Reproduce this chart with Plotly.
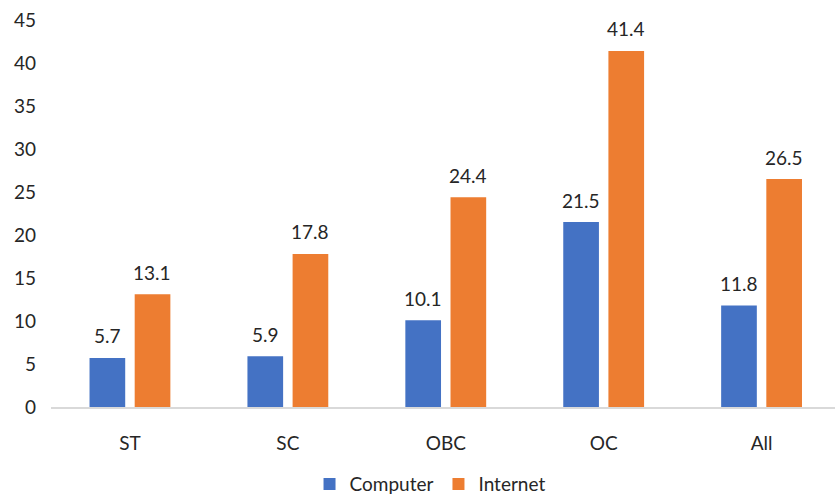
import plotly.graph_objects as go

categories = ["ST", "SC", "OBC", "OC", "All"]
computer = [5.7, 5.9, 10.1, 21.5, 11.8]
internet = [13.1, 17.8, 24.4, 41.4, 26.5]
y_ticks = [0, 5, 10, 15, 20, 25, 30, 35, 40, 45]

BLUE = "#4472C4"
ORANGE = "#ED7D31"
FONT = "Lato"
TXT = "#262626"

fig = go.Figure()
fig.add_trace(go.Bar(name="Computer", x=categories, y=computer,
                     marker=dict(color=BLUE, line=dict(width=0))))
fig.add_trace(go.Bar(name="Internet", x=categories, y=internet,
                     marker=dict(color=ORANGE, line=dict(width=0))))

# value labels above each bar, shifted left/right to the bar in the group
slot_px = 45
for series, shift in ((computer, -slot_px / 2), (internet, slot_px / 2)):
    for cat, val in zip(categories, series):
        fig.add_annotation(x=cat, y=val, text=f"{val:.1f}", showarrow=False,
                           xshift=shift, yshift=22, yanchor="middle",
                           font=dict(family=FONT, size=19, color=TXT))

fig.update_layout(
    width=835, height=494,
    margin=dict(l=51, r=0, t=20, b=87),
    plot_bgcolor="white", paper_bgcolor="white",
    barmode="group", bargap=0.428, bargroupgap=0.21,
    font=dict(family=FONT, size=19, color=TXT),
    showlegend=True,
    legend=dict(orientation="h", xref="container", yref="container",
                x=0.515, xanchor="center", y=0.02, yanchor="middle",
                font=dict(family=FONT, size=19, color=TXT),
                itemwidth=30, tracegroupgap=0),
)
fig.update_xaxes(range=[-0.5, 4.465], showline=True, linecolor="#D9D9D9",
                 linewidth=2, ticks="", ticklabelstandoff=18,
                 showgrid=False, zeroline=False)
fig.update_yaxes(range=[0, 45], tickvals=y_ticks, showgrid=False,
                 zeroline=False, showline=False, ticks="",
                 ticklabelstandoff=14)

fig.write_html("out.html")
